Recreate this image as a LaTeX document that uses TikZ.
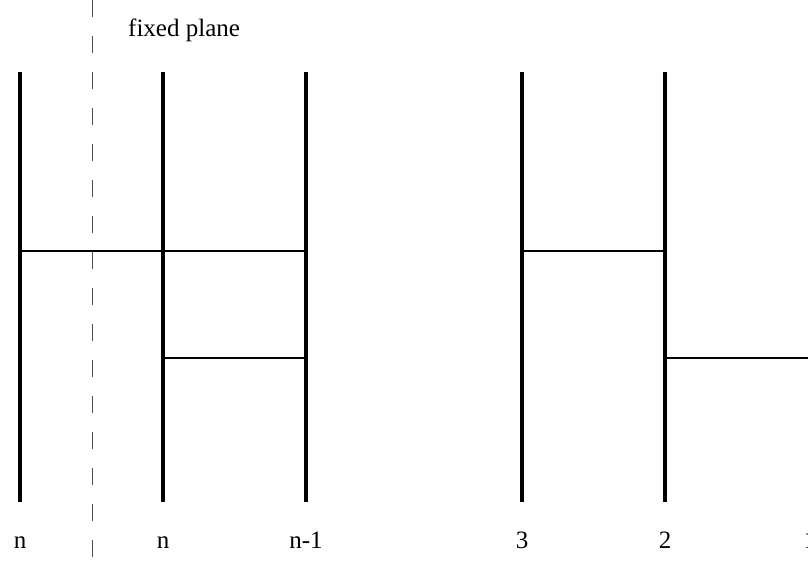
\documentclass[tikz,border=0pt]{standalone}
\usepackage{fontspec}
\setmainfont{Liberation Serif}
\usetikzlibrary{positioning}

\tikzset{
  rail/.style={line width=3.3pt},
  rung/.style={line width=1.1pt},
  plane/.style={line width=1pt, black!70, dash pattern=on 17pt off 19pt},
  strandlabel/.style={anchor=base, inner sep=0pt, font=\fontsize{25}{30}\selectfont}
}

\begin{document}
\begin{tikzpicture}[x=1pt,y=-1pt]
  \useasboundingbox (0,0) rectangle (808,560);
  % strand ends
  \coordinate (Atop) at (20,72);   \coordinate (Abot) at (20,502);
  \coordinate (Btop) at (163,72);  \coordinate (Bbot) at (163,502);
  \coordinate (Ctop) at (306,72);  \coordinate (Cbot) at (306,502);
  \coordinate (Dtop) at (522,72);  \coordinate (Dbot) at (522,502);
  \coordinate (Etop) at (665,72);  \coordinate (Ebot) at (665,502);
  \coordinate (Ftop) at (810,72);  \coordinate (Fbot) at (810,502);
  % rung ends
  \coordinate (Aup) at (20,251);  \coordinate (Bup) at (163,251);
  \coordinate (Cup) at (306,251); \coordinate (Bdown) at (163,358);
  \coordinate (Cdown) at (306,358);
  \coordinate (Dup) at (522,251); \coordinate (Eup) at (665,251);
  \coordinate (Edown) at (665,358); \coordinate (Fdown) at (810,358);
  % fixed plane
  \coordinate (PlaneTop) at (92,0); \coordinate (PlaneBot) at (92,560);
  \draw[plane] (PlaneTop) -- (PlaneBot);
  \node[anchor=base west, inner sep=0pt, font=\fontsize{25}{30}\selectfont] (PlaneLabel) at (128,36) {fixed plane};

  \draw[rail] (Atop) -- (Abot);
  \draw[rail] (Btop) -- (Bbot);
  \draw[rail] (Ctop) -- (Cbot);
  \draw[rail] (Dtop) -- (Dbot);
  \draw[rail] (Etop) -- (Ebot);
  \draw[rail] (Ftop) -- (Fbot);

  \draw[rung] (Aup) -- (Bup) -- (Cup);
  \draw[rung] (Bdown) -- (Cdown);
  \draw[rung] (Dup) -- (Eup);
  \draw[rung] (Edown) -- (Fdown);

  \node[strandlabel] (LabA) at (20,548) {n};
  \node[strandlabel] (LabB) at (163,548) {n};
  \node[strandlabel] (LabC) at (306,548) {n-1};
  \node[strandlabel] (LabD) at (522,548) {3};
  \node[strandlabel] (LabE) at (665,548) {2};
  \node[strandlabel] (LabF) at (810,548) {1};
\end{tikzpicture}
\end{document}
